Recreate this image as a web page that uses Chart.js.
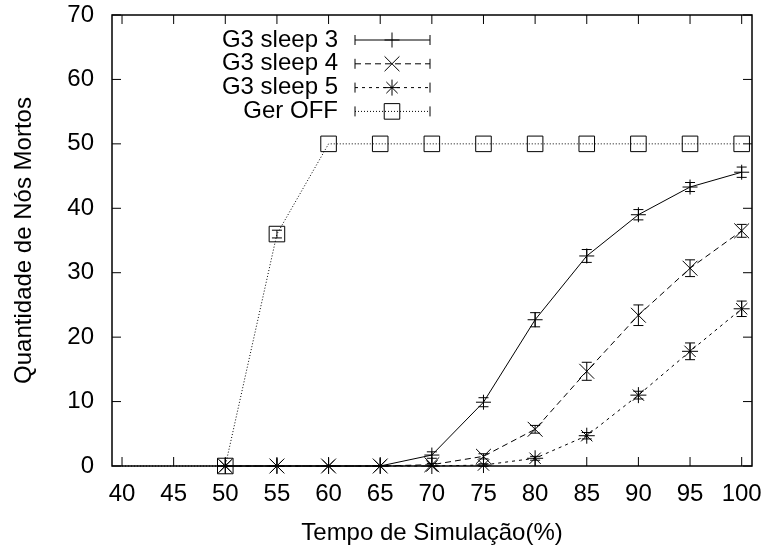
<!DOCTYPE html>
<html>
<head>
<meta charset="utf-8">
<script src="https://cdn.jsdelivr.net/npm/chart.js@4"></script>
<style>
  html, body { margin: 0; padding: 0; background: #fff; }
  #wrap { width: 768px; height: 548px; }
</style>
</head>
<body>
<div id="wrap"><canvas id="myChart" width="768" height="548"></canvas></div>
<script>
// Dados
var xTicks = [40, 45, 50, 55, 60, 65, 70, 75, 80, 85, 90, 95, 100];
var xSleep = [50, 55, 60, 65, 70, 75, 80, 85, 90, 95, 100];
var sleep3 = [0, 0, 0, 0, 1.7, 9.9, 22.7, 32.6, 39.0, 43.3, 45.6];
var sleep3Err = [0, 0, 0, 0, 0.5, 0.7, 1.1, 1.0, 0.8, 0.7, 0.8];
var sleep4 = [0, 0, 0, 0, 0.2, 1.5, 5.7, 14.7, 23.4, 30.7, 36.5];
var sleep4Err = [0, 0, 0, 0, 0.2, 0.4, 0.6, 1.4, 1.6, 1.3, 1.0];
var sleep5 = [0, 0, 0, 0, 0, 0.15, 1.2, 4.7, 11.0, 17.8, 24.4];
var sleep5Err = [0, 0, 0, 0, 0, 0.2, 0.3, 0.5, 0.6, 1.3, 1.2];
var xGer = [40, 45, 50, 55, 60, 65, 70, 75, 80, 85, 90, 95, 100];
var gerOff = [0, 0, 0, 36, 50, 50, 50, 50, 50, 50, 50, 50, 50];
var gerOffErr = [0, 0, 0, 0.6, 0, 0, 0, 0, 0, 0, 0, 0, 0];

var FONT = "'Liberation Sans', Arial, sans-serif";
var FSIZE = 24;

function pts(xs, ys) {
  return xs.map(function (x, i) { return { x: x, y: ys[i] }; });
}

// barras de erro + moldura + legenda estilo gnuplot
var gnuplotPlugin = {
  id: "gnuplot",
  afterDatasetsDraw: function (chart) {
    var ctx = chart.ctx;
    var xs = chart.scales.x, ys = chart.scales.y;
    var a = chart.chartArea;
    ctx.save();
    chart.data.datasets.forEach(function (ds) {
      var errs = ds.errors;
      if (!errs) return;
      ctx.strokeStyle = "#000";
      ctx.lineWidth = 1;
      ctx.setLineDash([]);
      ds.data.forEach(function (p, i) {
        var e = errs[i];
        if (!e) return;
        var px = xs.getPixelForValue(p.x);
        var y1 = ys.getPixelForValue(p.y - e);
        var y2 = ys.getPixelForValue(p.y + e);
        ctx.beginPath();
        ctx.moveTo(px, y1); ctx.lineTo(px, y2);
        ctx.moveTo(px - 5, y1); ctx.lineTo(px + 5, y1);
        ctx.moveTo(px - 5, y2); ctx.lineTo(px + 5, y2);
        ctx.stroke();
      });
    });

    // moldura
    ctx.lineWidth = 1.5;
    ctx.strokeStyle = "#000";
    ctx.strokeRect(a.left, a.top, a.right - a.left, a.bottom - a.top);
    // marcas internas
    ctx.lineWidth = 1;
    ctx.beginPath();
    xTicks.forEach(function (v) {
      var px = xs.getPixelForValue(v);
      ctx.moveTo(px, a.bottom); ctx.lineTo(px, a.bottom - 9);
      ctx.moveTo(px, a.top); ctx.lineTo(px, a.top + 9);
    });
    for (var v = 0; v <= 70; v += 10) {
      var py = ys.getPixelForValue(v);
      ctx.moveTo(a.left, py); ctx.lineTo(a.left + 9, py);
      ctx.moveTo(a.right, py); ctx.lineTo(a.right - 9, py);
    }
    ctx.stroke();

    // legenda
    ctx.font = FSIZE + "px " + FONT;
    ctx.textAlign = "right";
    ctx.textBaseline = "middle";
    chart.data.datasets.forEach(function (ds, i) {
      var y = 40 + i * 23.8;
      ctx.fillStyle = "#000";
      ctx.fillText(ds.label, 338, y);
      ctx.strokeStyle = ds.borderColor;
      ctx.lineWidth = 1;
      ctx.setLineDash(ds.borderDash || []);
      ctx.beginPath();
      ctx.moveTo(355, y); ctx.lineTo(430, y);
      ctx.stroke();
      ctx.setLineDash([]);
      ctx.beginPath();
      ctx.moveTo(355, y - 5); ctx.lineTo(355, y + 5);
      ctx.moveTo(430, y - 5); ctx.lineTo(430, y + 5);
      ctx.stroke();
      ctx.fillStyle = "rgba(0,0,0,0)";
      Chart.helpers.drawPoint(ctx, {
        pointStyle: ds.pointStyle,
        radius: ds.legendRadius,
        borderWidth: 1
      }, 392, y);
    });
    ctx.restore();
  }
};

var ctx = document.getElementById("myChart");
var myChart = new Chart(ctx, {
  type: "line",
  data: {
    datasets: [
      {
        label: "G3 sleep 3",
        data: pts(xSleep, sleep3),
        errors: sleep3Err,
        borderColor: "#000",
        backgroundColor: "rgba(0,0,0,0)",
        borderWidth: 1,
        pointStyle: "cross",
        pointRadius: 7.5,
        legendRadius: 7.5,
        pointBorderWidth: 1
      },
      {
        label: "G3 sleep 4",
        data: pts(xSleep, sleep4),
        errors: sleep4Err,
        borderColor: "#000",
        backgroundColor: "rgba(0,0,0,0)",
        borderWidth: 1,
        borderDash: [6, 4],
        pointStyle: "crossRot",
        pointRadius: 10.5,
        legendRadius: 10.5,
        pointBorderWidth: 1
      },
      {
        label: "G3 sleep 5",
        data: pts(xSleep, sleep5),
        errors: sleep5Err,
        borderColor: "#000",
        backgroundColor: "rgba(0,0,0,0)",
        borderWidth: 1,
        borderDash: [3, 4],
        pointStyle: "star",
        pointRadius: 8,
        legendRadius: 8,
        pointBorderWidth: 1
      },
      {
        label: "Ger OFF",
        data: pts(xGer, gerOff),
        errors: gerOffErr,
        borderColor: "#000",
        backgroundColor: "rgba(0,0,0,0)",
        borderWidth: 1,
        borderDash: [1, 2],
        pointStyle: "rect",
        pointRadius: [0, 0, 11, 11, 11, 11, 11, 11, 11, 11, 11, 11, 11],
        legendRadius: 11,
        pointBorderWidth: 1
      }
    ]
  },
  options: {
    responsive: false,
    animation: false,
    clip: false,
    layout: { padding: { left: 0, right: 0, top: 0, bottom: 0 } },
    plugins: {
      legend: { display: false },
      tooltip: { enabled: false }
    },
    elements: { line: { tension: 0 } },
    scales: {
      x: {
        type: "linear",
        min: 39.03,
        max: 101,
        afterBuildTicks: function (scale) {
          scale.ticks = xTicks.map(function (v) { return { value: v }; });
        },
        afterFit: function (scale) {
          scale.height = 82;
          scale.paddingRight = 16;
        },
        grid: { display: false },
        border: { display: false },
        ticks: {
          color: "#000",
          font: { family: FONT, size: FSIZE },
          padding: 6,
          maxRotation: 0,
          autoSkip: false
        },
        title: {
          display: true,
          text: "Tempo de Simulação(%)",
          color: "#000",
          font: { family: FONT, size: FSIZE },
          padding: { top: 0, bottom: 0 }
        }
      },
      y: {
        min: 0,
        max: 70,
        afterFit: function (scale) {
          scale.width = 112;
          scale.paddingTop = 15;
        },
        grid: { display: false },
        border: { display: false },
        ticks: {
          stepSize: 10,
          color: "#000",
          font: { family: FONT, size: FSIZE },
          padding: 10
        },
        title: {
          display: true,
          text: "Quantidade de Nós Mortos",
          color: "#000",
          font: { family: FONT, size: FSIZE },
          padding: { top: 10, bottom: 0 }
        }
      }
    }
  },
  plugins: [gnuplotPlugin]
});
</script>
</body>
</html>
